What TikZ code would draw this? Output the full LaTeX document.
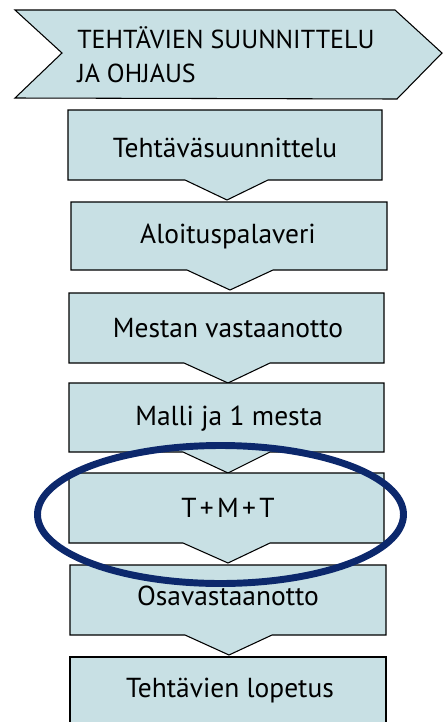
\documentclass[tikz,border=0pt]{standalone}
\usepackage{fontspec}
\setmainfont{PT Sans}
\begin{document}
\begin{tikzpicture}[x=0.75pt,y=-0.75pt,
  stage/.style={fill=boxfill,draw=black,line width=0.8pt,line join=miter},
  label/.style={anchor=base,inner sep=0pt,font=\fontsize{20.6}{24}\selectfont},
  headlabel/.style={anchor=base west,inner sep=0pt,font=\fontsize{19.5}{25.5}\selectfont},
  ring/.style={draw=ringblue,line width=5.2pt}]
\definecolor{boxfill}{RGB}{200,224,228}
\definecolor{ringblue}{RGB}{12,40,108}
\useasboundingbox (0,0) rectangle (443,722);
\begin{scope}
\clip (0,0) rectangle (443,722);
% header chevron
\draw[stage] (15,10) -- (395,10) -- (442,53) -- (397,99) -- (15,98) -- (62,53) -- cycle;
\node[headlabel] (head) at (77,48) {TEHTÄVIEN SUUNNITTELU};
\node[headlabel] (head2) at (77,82) {JA OHJAUS};
% process steps: box with a downward point
\draw[stage] (68,110) -- (382,110) -- (382,180) -- (268,180) -- (227,200) -- (185,180) -- (68,180) -- cycle;
\node[label] (s1) at (225,157) {Tehtäväsuunnittelu};
\draw[stage] (71,202) -- (387,202) -- (387,270) -- (273,270) -- (230,290) -- (187,270) -- (71,270) -- cycle;
\node[label] (s2) at (228,243) {Aloituspalaveri};
\draw[stage] (69,293) -- (384,293) -- (384,363) -- (270,363) -- (228,383) -- (184,363) -- (69,363) -- cycle;
\node[label] (s3) at (228,337) {Mestan vastaanotto};
\draw[stage] (69,383) -- (384,383) -- (384,452) -- (270,452) -- (228,473) -- (183,452) -- (69,452) -- cycle;
\node[label] (s4) at (229,425) {Malli ja 1 mesta};
\draw[stage] (69,473) -- (384,473) -- (384,543) -- (270,543) -- (228,563) -- (183,543) -- (69,543) -- cycle;
\node[label] (s5) at (228,517) {T\hspace{0.12em}+\hspace{0.12em}M\hspace{0.12em}+\hspace{0.12em}T};
\draw[stage] (70,565) -- (386,565) -- (386,635) -- (272,635) -- (229,655) -- (185,635) -- (70,635) -- cycle;
\node[label] (s6) at (228,605) {Osavastaanotto};
\draw[stage] (70,657) -- (386,657) -- (386,730) -- (70,730) -- cycle;
\node[label] (s7) at (230,697) {Tehtävien lopetus};
% highlight ring
\draw[ring] (220.5,514.5) ellipse [x radius=183, y radius=69];
\end{scope}
\end{tikzpicture}
\end{document}
